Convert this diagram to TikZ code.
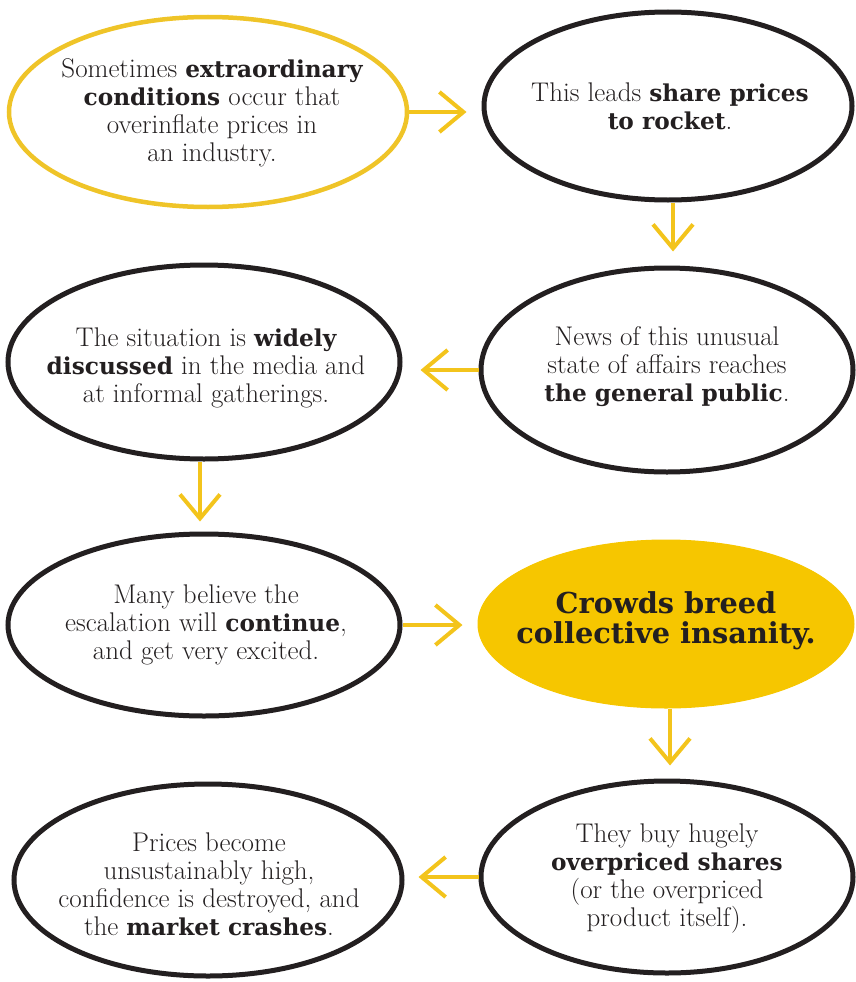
\documentclass[tikz,border=0pt]{standalone}
\usepackage{fontspec}
\usetikzlibrary{shapes.geometric,arrows.meta}
\newfontfamily\slab[Scale=0.86]{DejaVu Serif}
\newcommand\hb[1]{{\slab\bfseries #1}}
\definecolor{gold}{HTML}{F6C600}
\definecolor{goldline}{HTML}{EFC428}
\definecolor{arrowgold}{HTML}{F3C41C}
\definecolor{ink}{HTML}{231F20}
\begin{document}
\begin{tikzpicture}[x=1pt,y=-1pt,
  bubble/.style={ellipse,draw=ink,line width=5pt,inner sep=0pt},
  firstbubble/.style={ellipse,draw=goldline,line width=4.5pt,inner sep=0pt},
  keybubble/.style={ellipse,fill=gold,draw=gold,line width=1pt,inner sep=0pt},
  txt/.style={align=center,text=ink,font=\fontsize{27}{28}\selectfont},
  keytxt/.style={align=center,text=ink,font=\fontsize{33.5}{30}\selectfont\slab\bfseries},
  arr/.style={draw=arrowgold,line width=4pt,-{Straight Barb[length=24pt,width=40pt,line width=4pt]}}]
\useasboundingbox (0,0) rectangle (855,982);

\node[firstbubble,minimum width=398pt,minimum height=190pt] (e1) at (208,112) {};
\node[bubble,minimum width=368pt,minimum height=188pt] (e2) at (668,106) {};
\node[bubble,minimum width=372pt,minimum height=204pt] (e3) at (667,370) {};
\node[bubble,minimum width=392pt,minimum height=194pt] (e4) at (204,362) {};
\node[bubble,minimum width=392pt,minimum height=182pt] (e5) at (204,625) {};
\node[keybubble,minimum width=376pt,minimum height=168pt] (e6) at (666,624) {};
\node[bubble,minimum width=372pt,minimum height=192pt] (e7) at (667,877) {};
\node[bubble,minimum width=388pt,minimum height=192pt] (e8) at (208,880) {};

\node[txt] (t1) at (212,113) {Sometimes \hb{extraordinary}\\\hb{conditions} occur that\\overinflate prices in\\an industry.};
\node[txt] (t2) at (670,106) {This leads \hb{share prices}\\\hb{to rocket}.};
\node[txt] (t3) at (667,367) {News of this unusual\\state of affairs reaches\\\hb{the general public}.};
\node[txt] (t4) at (206,368) {The situation is \hb{widely}\\\hb{discussed} in the media and\\at informal gatherings.};
\node[txt] (t5) at (206,625) {Many believe the\\escalation will \hb{continue},\\and get very excited.};
\node[keytxt] (t6) at (666,621) {Crowds breed\\collective insanity.};
\node[txt] (t7) at (667,878) {They buy hugely\\\hb{overpriced shares}\\(or the overpriced\\product itself).};
\node[txt] (t8) at (209,884) {Prices become\\unsustainably high,\\confidence is destroyed, and\\the \hb{market crashes}.};

\draw[arr,shorten >=15pt] (e1.east) -- (e1.east -| e2.west);
\draw[arr,shorten >=14pt] (e2.south -| 673,0) -- (e3.north -| 673,0);
\draw[arr,shorten >=18pt] (e3.west) -- (e3.west -| e4.east);
\draw[arr,shorten >=10pt] (e4.south -| 200,0) -- (e5.north -| 200,0);
\draw[arr,shorten >=15pt] (e5.east) -- (e5.east -| e6.west);
\draw[arr,shorten >=13pt] (e6.south -| 670,0) -- (e7.north -| 670,0);
\draw[arr,shorten >=14pt] (e7.west) -- (e7.west -| e8.east);
\end{tikzpicture}
\end{document}
